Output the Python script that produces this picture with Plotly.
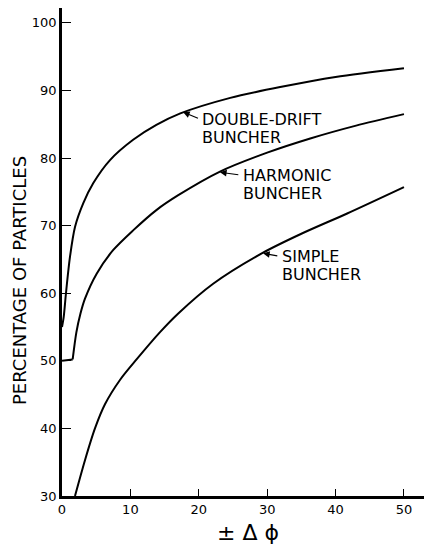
import plotly.graph_objects as go

# Double-drift buncher
dd_x = [0, 0.25, 0.58, 1.17, 1.9, 3.1, 4.58, 7.02, 10.4, 13.8, 17.3, 24.6, 31.9, 40, 50]
dd_y = [55, 56.5, 60, 65.4, 69.8, 73.3, 76.3, 79.7, 82.7, 84.9, 86.6, 88.9, 90.5, 92.0, 93.3]

# Harmonic buncher
hb_x = [0, 1.56, 2.1, 2.7, 3.36, 5.07, 7.5, 10.4, 13.8, 17.0, 23.1, 30, 36.3, 43, 50]
hb_y = [50, 50.2, 54.2, 57.0, 59.2, 62.9, 66.4, 69.3, 72.3, 74.5, 78.0, 80.8, 82.9, 84.8, 86.5]

# Simple buncher
sb_x = [1.9, 3.36, 4.82, 6.3, 8.5, 10.9, 14.3, 17.0, 22.1, 29.4, 35, 41.7, 50]
sb_y = [30, 35.3, 40, 43.6, 47.2, 50.2, 54.2, 57.0, 61.4, 66.0, 68.8, 71.8, 75.7]

x_ticks = [0, 10, 20, 30, 40, 50]
x_ticklabels = ["0", "10", "20", "30", "40", "50"]
y_ticks = [30, 40, 50, 60, 70, 80, 90, 100]
y_ticklabels = ["30", "40", "50", "60", "70", "80", "90", "100"]

label_line1 = ["DOUBLE-DRIFT", "HARMONIC", "SIMPLE"]
label_line2 = ["BUNCHER", "BUNCHER", "BUNCHER"]
label_x = [20.3, 26.3, 32.0]
label_y1 = [85.7, 77.4, 65.44]
label_y2 = [83.02, 74.74, 62.77]
tip_x = [17.7, 23.1, 29.4]
tip_y = [86.8, 77.9, 65.9]
tail_x = [20.1, 26.0, 31.7]
tail_y = [85.8, 77.5, 65.5]

FONT = "DejaVu Sans"
LINE = dict(color="black", width=2)

fig = go.Figure()
fig.add_trace(go.Scatter(x=dd_x, y=dd_y, mode="lines",
                         line=dict(**LINE, shape="spline", smoothing=0.8),
                         showlegend=False, hoverinfo="skip"))
# harmonic: flat start drawn straight, then the smooth rise
fig.add_trace(go.Scatter(x=hb_x[:2], y=hb_y[:2], mode="lines", line=LINE,
                         showlegend=False, hoverinfo="skip"))
fig.add_trace(go.Scatter(x=hb_x[1:], y=hb_y[1:], mode="lines",
                         line=dict(**LINE, shape="spline", smoothing=0.8),
                         showlegend=False, hoverinfo="skip"))
fig.add_trace(go.Scatter(x=sb_x, y=sb_y, mode="lines",
                         line=dict(**LINE, shape="spline", smoothing=0.8),
                         showlegend=False, hoverinfo="skip"))

for i in range(3):
    fig.add_annotation(x=tip_x[i], y=tip_y[i], ax=tail_x[i], ay=tail_y[i],
                       xref="x", yref="y", axref="x", ayref="y",
                       text="", showarrow=True, arrowhead=2, arrowsize=1.1, arrowwidth=1.2,
                       arrowcolor="black")
    for txt, yy in [(label_line1[i], label_y1[i]), (label_line2[i], label_y2[i])]:
        fig.add_annotation(x=label_x[i], y=yy, xref="x", yref="y", text=txt, showarrow=False,
                           xanchor="left", yanchor="middle", borderpad=0,
                           font=dict(family=FONT, size=16, color="black"))

fig.add_annotation(x=0, y=0.4406, xref="paper", yref="paper", xshift=-42,
                   text="PERCENTAGE OF PARTICLES", textangle=-90, showarrow=False,
                   xanchor="center", yanchor="middle",
                   font=dict(family=FONT, size=18, color="black"))
fig.add_annotation(x=0.503, y=0, xref="paper", yref="paper", yshift=-36,
                   text="± Δ ϕ", showarrow=False, xanchor="center", yanchor="middle",
                   font=dict(family=FONT, size=22, color="black"))

fig.update_layout(
    width=424, height=540,
    margin=dict(l=54, r=0, t=0, b=52),
    paper_bgcolor="white", plot_bgcolor="white",
    xaxis=dict(range=[0, 54.1], tickvals=x_ticks, ticktext=x_ticklabels,
               ticks="inside", ticklen=7, tickwidth=1, tickcolor="black",
               showline=True, linewidth=2.5, linecolor="black", showgrid=False,
               zeroline=False, tickfont=dict(family=FONT, size=13, color="black")),
    yaxis=dict(range=[30, 102.2], tickvals=y_ticks, ticktext=y_ticklabels,
               ticks="inside", ticklen=9, tickwidth=1, tickcolor="black",
               showline=True, linewidth=2.5, linecolor="black", showgrid=False,
               zeroline=False, tickfont=dict(family=FONT, size=13, color="black")),
)

fig.write_html("out.html")
